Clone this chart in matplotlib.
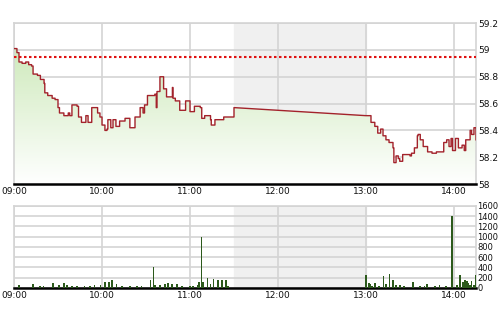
import matplotlib
matplotlib.use("Agg")
import matplotlib.pyplot as plt
from matplotlib.colors import LinearSegmentedColormap
import numpy as np

# minutes after 09:00 and price
price_min = [0, 2, 3.4, 5.5, 8, 10, 12, 13, 16, 18, 20.5, 21, 23, 26, 28, 30, 31, 34, 37, 38,
             39.5, 43, 44, 46, 49, 50.5, 53, 57, 58.6, 60, 62, 63.4, 64, 66, 67.5, 69.5, 72,
             75.7, 77.7, 79, 82.5, 86, 88, 89, 91, 94, 96, 97, 97.5, 99.5, 101.6, 102, 104,
             108, 108.4, 110, 113, 117, 120, 123, 127, 128, 130, 134, 134.5, 137, 142, 143,
             149, 150, 240, 243.4, 246, 248, 250, 251.6, 253.6, 255.7, 257.7, 258.4, 259,
             260.5, 262, 263, 265, 270, 271, 273, 275, 275.5, 277, 279, 282, 285, 288, 291,
             293, 295, 296.6, 298, 299, 301, 303, 305.5, 307, 308, 311, 312, 313.6, 315]
price_val = [59.01, 58.98, 58.91, 58.90, 58.91, 58.89, 58.88, 58.82, 58.81, 58.78, 58.75,
             58.68, 58.66, 58.64, 58.63, 58.57, 58.53, 58.51, 58.53, 58.51,
             58.59, 58.58, 58.50, 58.46, 58.51, 58.46, 58.57, 58.53, 58.50, 58.44, 58.40,
             58.41, 58.48, 58.42, 58.48, 58.43, 58.47,
             58.49, 58.49, 58.42, 58.50, 58.57, 58.53, 58.59, 58.66, 58.66, 58.67, 58.57,
             58.69, 58.80, 58.80, 58.71, 58.65,
             58.72, 58.64, 58.62, 58.55, 58.62, 58.54, 58.58, 58.57, 58.49, 58.51, 58.48,
             58.44, 58.48, 58.48, 58.50,
             58.50, 58.57, 58.51, 58.46, 58.43, 58.38, 58.41, 58.36, 58.33, 58.31, 58.31,
             58.27, 58.16,
             58.21, 58.19, 58.17, 58.22, 58.21, 58.23, 58.27, 58.36, 58.37, 58.33, 58.28,
             58.24, 58.23, 58.24, 58.24,
             58.31, 58.33, 58.28, 58.34, 58.25, 58.34, 58.27, 58.29, 58.25, 58.33, 58.40,
             58.37, 58.42, 58.33]
ref_price = 58.95
lunch_start, lunch_end = 150, 240

vol_min = [3.4, 13, 17.7, 20, 26.6, 30.7, 34, 36, 39.5, 43, 48, 52, 55, 59, 62, 64.8, 67,
           70, 73.6, 79, 84, 87, 93, 95, 96, 99.5, 103, 105, 107.7, 111, 114.5, 120, 122,
           125, 126, 127.8, 129, 132, 134, 136, 139, 142, 144.5, 146,
           240, 242, 243, 244, 246, 249, 252, 253.6, 256, 258, 258.4, 260.5, 263, 266, 272,
           277, 280, 281.6, 287, 290, 294.5, 298.6, 302, 304, 306, 307.5, 309, 310, 311,
           312, 313.6, 315]
vol_val = [60, 85, 40, 40, 105, 60, 100, 50, 40, 45, 40, 40, 50, 55, 117, 115, 150,
           70, 45, 40, 40, 40, 156, 403, 60, 50, 70, 90, 70, 80, 40, 30, 40,
           60, 110, 1000, 120, 190, 80, 170, 160, 160, 150, 30,
           254, 100, 70, 40, 100, 40, 240, 80, 273, 100, 160, 60, 50, 40, 110,
           40, 30, 70, 40, 50, 40, 1400, 60, 250, 120, 160, 130, 90, 60,
           140, 50, 250]

tick_min = [0, 60, 120, 180, 240, 300]
tick_lbl = ["09:00", "10:00", "11:00", "12:00", "13:00", "14:00"]

grid_c = "#d4d4d4"
shade_c = "#f0f0f0"


def step_post(x, y):
    # trading sessions are stepped, the lunch gap stays a straight line
    xs = np.repeat(x, 2)[1:]
    ys = np.repeat(y, 2)[:-1]
    return xs, ys


pm = np.array(price_min)
pv = np.array(price_val)
am = pm <= lunch_start
mx, my = step_post(pm[am], pv[am])
ax_, ay_ = step_post(pm[~am], pv[~am])
line_x = np.concatenate([mx, ax_])
line_y = np.concatenate([my, ay_])

fig = plt.figure(figsize=(5, 3.12), dpi=100)
ax = fig.add_axes([0.028, 0.41, 0.924, 0.516])
ax2 = fig.add_axes([0.028, 0.077, 0.924, 0.263])

for a in (ax, ax2):
    a.axvspan(lunch_start, lunch_end, color=shade_c, zorder=0)
    a.set_xlim(0, 315)
    a.set_xticks(tick_min)
    a.set_xticklabels(tick_lbl)
    a.grid(True, color=grid_c, linewidth=1.2, zorder=1)
    a.set_axisbelow(True)
    a.yaxis.tick_right()
    a.tick_params(length=0, labelsize=6.5, pad=2, colors="#111111")
    for s in ("top", "left", "right"):
        a.spines[s].set_color(grid_c)
        a.spines[s].set_linewidth(1.2)
    a.spines["bottom"].set_color("black")
    a.spines["bottom"].set_linewidth(1.8)

# price panel
ax.set_ylim(58, 59.2)
ax.set_yticks(np.arange(58, 59.21, 0.2))
ax.set_yticklabels(["58", "58.2", "58.4", "58.6", "58.8", "59", "59.2"])
poly = ax.fill_between(line_x, line_y, 58, color="none", zorder=2)
grad = np.linspace(1, 0, 256).reshape(-1, 1)
cmap = LinearSegmentedColormap.from_list("g", ["#ffffff", "#c6e6b0"])
img = ax.imshow(grad, cmap=cmap, aspect="auto", extent=[0, 315, 58, 59.2],
                origin="upper", zorder=2)
img.set_clip_path(poly.get_paths()[0], transform=ax.transData)
ax.plot(line_x, line_y, color="#a3222b", linewidth=1.0, zorder=4)
ax.axhline(ref_price, color="#e01010", linestyle=(0, (1.2, 1.2)), linewidth=1.5, zorder=5)

# volume panel
ax2.set_ylim(0, 1600)
ax2.set_yticks(np.arange(0, 1601, 200))
ax2.tick_params(axis="y", labelsize=6, pad=1)
ax2.bar(vol_min, vol_val, width=1.1, color="#2c5a1c", zorder=3)

fig.savefig("out.png", dpi=100)
